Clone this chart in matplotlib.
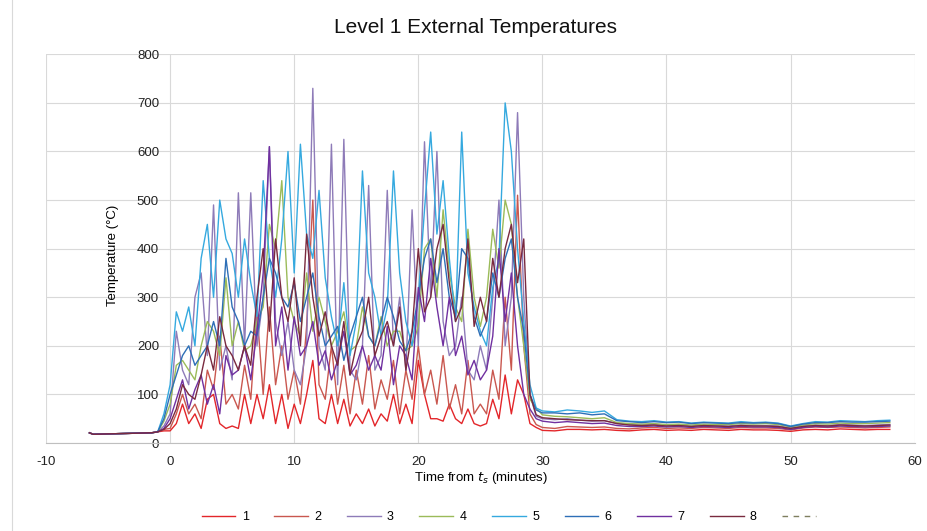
"""
Level 1 external temperatures, thermocouples 1-8 against time from t_s
"""

import matplotlib
matplotlib.use("Agg")
import matplotlib.pyplot as plt
import numpy as np
from matplotlib.lines import Line2D
from matplotlib.patches import Rectangle

plt.rcParams['font.family'] = ['Liberation Sans', 'DejaVu Sans']
plt.rcParams['axes.unicode_minus'] = False

######################################################################
# Data (temperature in degC, time in minutes)

t_pre = [-6.5, -6.2, -1.5, -1.0, -0.5]
t_fire = list(np.arange(0, 29.01, 0.5))
t_post = [29.5] + list(range(30, 59))

ambient = [21, 18, 21, 23]
onset = [25, 28, 35, 45, 60, 50, 30, 28]

fire_1 = [25, 40, 80, 40, 60, 30, 90, 100, 40, 30,
          35, 30, 100, 40, 100, 50, 120, 40, 100, 30,
          80, 40, 100, 170, 50, 40, 100, 40, 90, 35,
          60, 40, 70, 35, 60, 45, 100, 40, 80, 40,
          170, 100, 50, 50, 45, 80, 50, 40, 70, 40,
          35, 40, 90, 50, 140, 60, 130, 100, 40]
fire_2 = [30, 60, 100, 60, 80, 50, 150, 110, 220, 80,
          100, 70, 160, 90, 270, 100, 280, 120, 200, 90,
          150, 80, 240, 500, 120, 90, 200, 80, 160, 60,
          150, 80, 180, 70, 130, 90, 170, 60, 150, 90,
          200, 100, 150, 80, 180, 70, 120, 60, 170, 60,
          80, 60, 150, 90, 300, 150, 510, 200, 60]
fire_3 = [60, 230, 150, 120, 300, 350, 180, 490, 150, 200,
          130, 515, 200, 515, 200, 300, 610, 250, 180, 250,
          150, 120, 200, 730, 200, 150, 615, 120, 625, 150,
          130, 200, 530, 150, 180, 520, 200, 300, 150, 480,
          200, 620, 300, 600, 250, 180, 200, 300, 150, 130,
          200, 150, 300, 500, 200, 300, 680, 300, 100]
fire_4 = [80, 160, 170, 150, 130, 200, 250, 230, 180, 340,
          200, 250, 190, 200, 250, 280, 450, 400, 540, 300,
          250, 220, 350, 230, 300, 250, 200, 230, 270, 190,
          200, 280, 220, 200, 260, 200, 230, 230, 190, 200,
          240, 400, 420, 300, 480, 350, 280, 250, 440, 300,
          240, 300, 440, 360, 500, 450, 300, 200, 90]
fire_5 = [120, 270, 230, 280, 200, 380, 450, 300, 500, 420,
          390, 300, 420, 330, 260, 540, 380, 300, 420, 600,
          350, 615, 430, 380, 520, 340, 260, 200, 330, 180,
          250, 560, 350, 300, 220, 280, 560, 350, 250, 200,
          300, 480, 640, 430, 540, 380, 250, 640, 350, 280,
          230, 200, 320, 380, 700, 600, 400, 250, 120]
fire_6 = [100, 140, 180, 200, 160, 180, 200, 250, 200, 380,
          280, 250, 200, 230, 220, 300, 380, 350, 300, 280,
          330, 250, 300, 350, 260, 200, 220, 240, 170, 220,
          260, 300, 220, 200, 250, 300, 260, 210, 190, 230,
          300, 380, 420, 330, 400, 300, 260, 400, 380, 260,
          220, 250, 350, 300, 380, 420, 300, 230, 100]
fire_7 = [50, 90, 130, 70, 110, 140, 80, 120, 60, 180,
          140, 150, 200, 130, 230, 350, 610, 200, 280, 150,
          260, 180, 200, 250, 160, 190, 130, 170, 230, 140,
          160, 200, 150, 180, 150, 240, 120, 200, 180, 130,
          320, 250, 380, 280, 200, 300, 180, 220, 140, 170,
          130, 150, 220, 400, 250, 350, 200, 100, 70]
fire_8 = [40, 70, 120, 100, 90, 140, 200, 150, 260, 200,
          180, 150, 200, 160, 300, 400, 230, 420, 300, 250,
          340, 200, 430, 300, 220, 270, 200, 160, 250, 140,
          200, 230, 300, 180, 220, 250, 200, 280, 150, 230,
          400, 270, 300, 400, 450, 330, 250, 280, 420, 240,
          300, 250, 380, 300, 400, 450, 330, 420, 100]

post_1 = [32, 26, 25, 28, 28, 27, 28, 26, 25, 27, 28, 26, 27, 26, 28,
          27, 26, 28, 27, 27, 26, 24, 27, 28, 27, 29, 28, 27, 28, 28]
post_2 = [38, 32, 30, 34, 33, 32, 33, 30, 29, 31, 32, 30, 31, 30, 32,
          31, 30, 32, 31, 31, 30, 27, 31, 33, 32, 33, 32, 31, 32, 33]
post_3 = [55, 50, 48, 50, 47, 45, 46, 40, 38, 37, 38, 36, 37, 35, 37,
          36, 35, 37, 36, 36, 35, 31, 35, 37, 36, 38, 37, 36, 37, 38]
post_4 = [72, 58, 55, 54, 52, 50, 52, 42, 40, 39, 40, 38, 39, 37, 39,
          38, 38, 40, 39, 40, 38, 33, 37, 40, 39, 41, 40, 40, 41, 42]
post_5 = [72, 66, 64, 68, 66, 63, 66, 48, 45, 44, 46, 43, 44, 41, 43,
          42, 41, 44, 42, 43, 41, 35, 40, 44, 43, 46, 45, 44, 46, 47]
post_6 = [68, 62, 62, 60, 62, 58, 60, 46, 44, 42, 44, 42, 43, 40, 42,
          41, 40, 42, 41, 42, 40, 34, 39, 42, 42, 44, 43, 43, 44, 45]
post_7 = [50, 45, 42, 44, 42, 40, 41, 36, 34, 34, 35, 33, 34, 32, 34,
          33, 32, 34, 33, 33, 32, 28, 32, 34, 33, 35, 34, 33, 34, 35]
post_8 = [58, 52, 50, 48, 47, 46, 46, 40, 37, 36, 37, 35, 36, 34, 36,
          35, 34, 36, 35, 35, 34, 30, 34, 36, 35, 37, 36, 35, 36, 37]

labels = ['1', '2', '3', '4', '5', '6', '7', '8']
colors = ['#E3262A', '#C9574F', '#8E7BB8', '#9BBB59',
          '#35A9DF', '#2E6FB7', '#7030A0', '#7A2A3F']

fire = [fire_1, fire_2, fire_3, fire_4, fire_5, fire_6, fire_7, fire_8]
post = [post_1, post_2, post_3, post_4, post_5, post_6, post_7, post_8]

######################################################################
# Figure

fig = plt.figure(figsize=(9.28, 5.31), dpi=100)
ax = fig.add_axes([0.0496, 0.1657, 0.936, 0.732])

time = t_pre + t_fire + t_post
for i in range(8):
    temp = ambient + [onset[i]] + fire[i] + post[i]
    ax.plot(time, temp, color=colors[i], lw=1.0, label=labels[i])

ax.set_xlim(-10, 60)
ax.set_ylim(0, 800)
ax.set_xticks(np.arange(-10, 61, 10))
ax.set_yticks(np.arange(0, 801, 100))

# Excel style: y axis crosses at x = 0, light grid, no frame
ax.spines['left'].set_position(('data', 0))
ax.spines['left'].set_visible(False)
ax.spines['top'].set_visible(False)
ax.spines['right'].set_visible(False)
ax.spines['bottom'].set_color('#BFBFBF')
ax.grid(True, color='#D9D9D9', lw=0.8)
ax.set_axisbelow(True)
ax.tick_params(length=0, labelsize=9.5, colors='#222222')
ax.tick_params(axis='y', pad=8)
ax.tick_params(axis='x', pad=9)

fig.text(0.512, 0.949, 'Level 1 External Temperatures', fontsize=15,
         ha='center', va='center', color='#111111')
fig.text(113 / 928, 1 - 255 / 531, 'Temperature (°C)', rotation=90,
         fontsize=9.5, ha='center', va='center')
fig.text(481 / 928, 1 - 478 / 531, r'Time from $\mathit{t_s}$ (minutes)',
         fontsize=9.5, ha='center', va='center')

handles = [Line2D([], [], color=c, lw=1.0) for c in colors]
handles.append(Line2D([], [], color='#7F7F5F', lw=1.0, ls=(0, (4, 4))))
fig.legend(handles, labels + [''], loc='center',
           bbox_to_anchor=(512 / 928, 1 - 517 / 531), ncol=9, frameon=False,
           fontsize=9, handlelength=2.7, handletextpad=0.5,
           columnspacing=2.05)

# chart border
fig.patches.append(Rectangle((12 / 928, -0.01), 1.0, 1.02, fill=False,
                             edgecolor='#D9D9D9', lw=0.8,
                             transform=fig.transFigure))

fig.savefig('out.png', dpi=100)
